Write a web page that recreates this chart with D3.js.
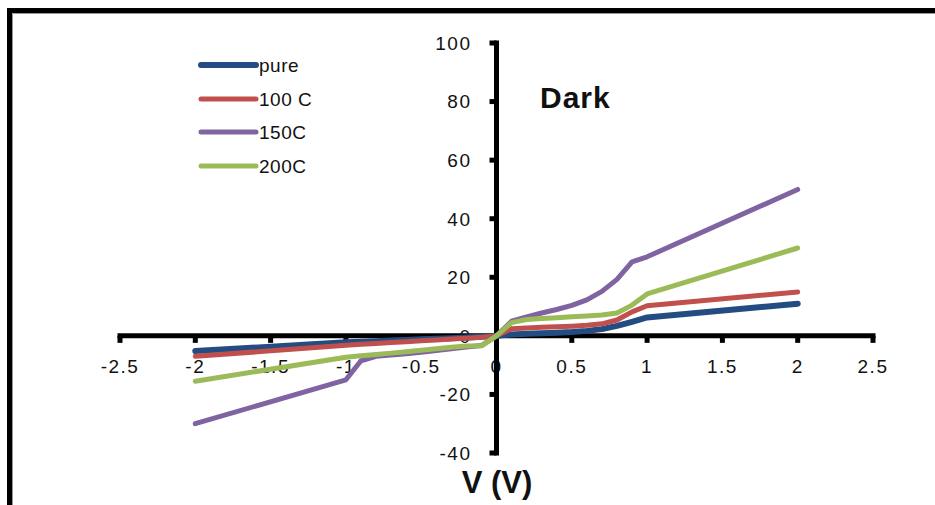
<!DOCTYPE html>
<html>
<head>
<meta charset="utf-8">
<script src="https://cdn.jsdelivr.net/npm/d3@7"></script>
<style>
  html, body { margin: 0; padding: 0; background: #fff; }
  svg { display: block; }
  text { font-family: "Liberation Sans", Arial, sans-serif; fill: #111; }
</style>
</head>
<body>
<svg id="chart" width="935" height="505"></svg>
<script>
// ---- data ----
const voltage = [-2, -1, -0.9, -0.8, -0.7, -0.6, -0.5, -0.4, -0.3, -0.2, -0.1, 0, 0.1, 0.2, 0.3, 0.4, 0.5, 0.6, 0.7, 0.8, 0.9, 1, 2];
const pure  = [-5.2, -2.2, -2.0, -1.8, -1.6, -1.4, -1.2, -1.0, -0.8, -0.6, -0.3, 0, 0.5, 0.7, 0.9, 1.1, 1.3, 1.7, 2.3, 3.4, 4.8, 6.3, 11];
const c100  = [-7.0, -3.2, -2.9, -2.6, -2.3, -2.0, -1.7, -1.4, -1.1, -0.8, -0.5, 0, 2.4, 2.7, 2.9, 3.1, 3.3, 3.6, 4.1, 5.4, 8.2, 10.3, 15];
const c150  = [-30, -15, -8.5, -7.0, -6.5, -6.1, -5.6, -5.0, -4.4, -3.8, -3.3, 0, 5.0, 6.5, 7.8, 9.0, 10.4, 12.3, 15.2, 19.3, 25.3, 27, 50];
const c200  = [-15.5, -7.3, -6.8, -6.4, -5.9, -5.4, -4.9, -4.4, -3.9, -3.5, -3.4, 0, 4.5, 5.6, 5.9, 6.2, 6.5, 6.8, 7.1, 7.8, 10.5, 14.3, 30];
const seriesNames = ["pure", "100 C", "150C", "200C"];
const seriesColors = ["#234C83", "#C0504D", "#8064A2", "#9BBB59"];
const seriesWidths = [6, 5, 5, 5];
const seriesValues = [pure, c100, c150, c200];
const xTicks = [-2.5, -2, -1.5, -1, -0.5, 0, 0.5, 1, 1.5, 2, 2.5];
const yTicks = [-40, -20, 0, 20, 40, 60, 80, 100];

// ---- layout ----
const svg = d3.select("#chart");
const x = d3.scaleLinear().domain([-2.5, 2.5]).range([120, 873]);
const y = d3.scaleLinear().domain([-40, 100]).range([453, 43]);

// frame
svg.append("path")
  .attr("d", "M9.5,505 L9.5,10.5 L935,10.5")
  .attr("fill", "none").attr("stroke", "#000").attr("stroke-width", 5);
svg.append("path")
  .attr("d", "M12.5,505 L12.5,13.5 L935,13.5")
  .attr("fill", "none").attr("stroke", "#999").attr("stroke-width", 1);

// x axis (at y = 0)
const xAxisG = svg.append("g").attr("transform", `translate(0,${y(0)})`);
xAxisG.append("line")
  .attr("x1", x(-2.5)).attr("x2", x(2.5))
  .attr("stroke", "#000").attr("stroke-width", 5).attr("stroke-linecap", "square");
xAxisG.selectAll("line.tick").data(xTicks).enter().append("line")
  .attr("class", "tick")
  .attr("x1", d => x(d)).attr("x2", d => x(d))
  .attr("y1", 0).attr("y2", 7)
  .attr("stroke", "#000").attr("stroke-width", 5);
xAxisG.selectAll("text").data(xTicks).enter().append("text")
  .attr("x", d => x(d)).attr("y", 37)
  .attr("text-anchor", "middle")
  .attr("font-size", 19).attr("letter-spacing", 1.5)
  .text(d => String(d));

// y axis (at x = 0)
const yAxisG = svg.append("g").attr("transform", `translate(${x(0)},0)`);
yAxisG.append("line")
  .attr("y1", y(-40)).attr("y2", y(100))
  .attr("stroke", "#000").attr("stroke-width", 5).attr("stroke-linecap", "square");
yAxisG.selectAll("line.tick").data(yTicks).enter().append("line")
  .attr("class", "tick")
  .attr("x1", -7).attr("x2", 0)
  .attr("y1", d => y(d)).attr("y2", d => y(d))
  .attr("stroke", "#000").attr("stroke-width", 5);
yAxisG.selectAll("text").data(yTicks).enter().append("text")
  .attr("x", -25).attr("y", d => y(d))
  .attr("dy", "0.36em")
  .attr("text-anchor", "end")
  .attr("font-size", 19).attr("letter-spacing", 1.5)
  .text(d => String(d));

// series lines
const line = d3.line().x(d => x(d[0])).y(d => y(d[1]));
seriesValues.forEach((vals, i) => {
  svg.append("path")
    .datum(voltage.map((v, j) => [v, vals[j]]))
    .attr("d", line)
    .attr("fill", "none")
    .attr("stroke", seriesColors[i])
    .attr("stroke-width", seriesWidths[i])
    .attr("stroke-linejoin", "round")
    .attr("stroke-linecap", "round");
});

// legend
const legendY = [65, 99, 132, 166];
seriesNames.forEach((name, i) => {
  svg.append("line")
    .attr("x1", 201).attr("x2", 256)
    .attr("y1", legendY[i]).attr("y2", legendY[i])
    .attr("stroke", seriesColors[i]).attr("stroke-width", seriesWidths[i])
    .attr("stroke-linecap", "round");
  svg.append("text")
    .attr("x", 259).attr("y", legendY[i]).attr("dy", "0.36em")
    .attr("font-size", 19).attr("letter-spacing", 0.5)
    .text(name);
});

// annotations
svg.append("text")
  .attr("x", 540).attr("y", 108)
  .attr("font-size", 30).attr("font-weight", "bold").attr("letter-spacing", 1)
  .text("Dark");
svg.append("text")
  .attr("x", 497).attr("y", 493)
  .attr("text-anchor", "middle")
  .attr("font-size", 31).attr("font-weight", "bold")
  .text("V (V)");
</script>
</body>
</html>
